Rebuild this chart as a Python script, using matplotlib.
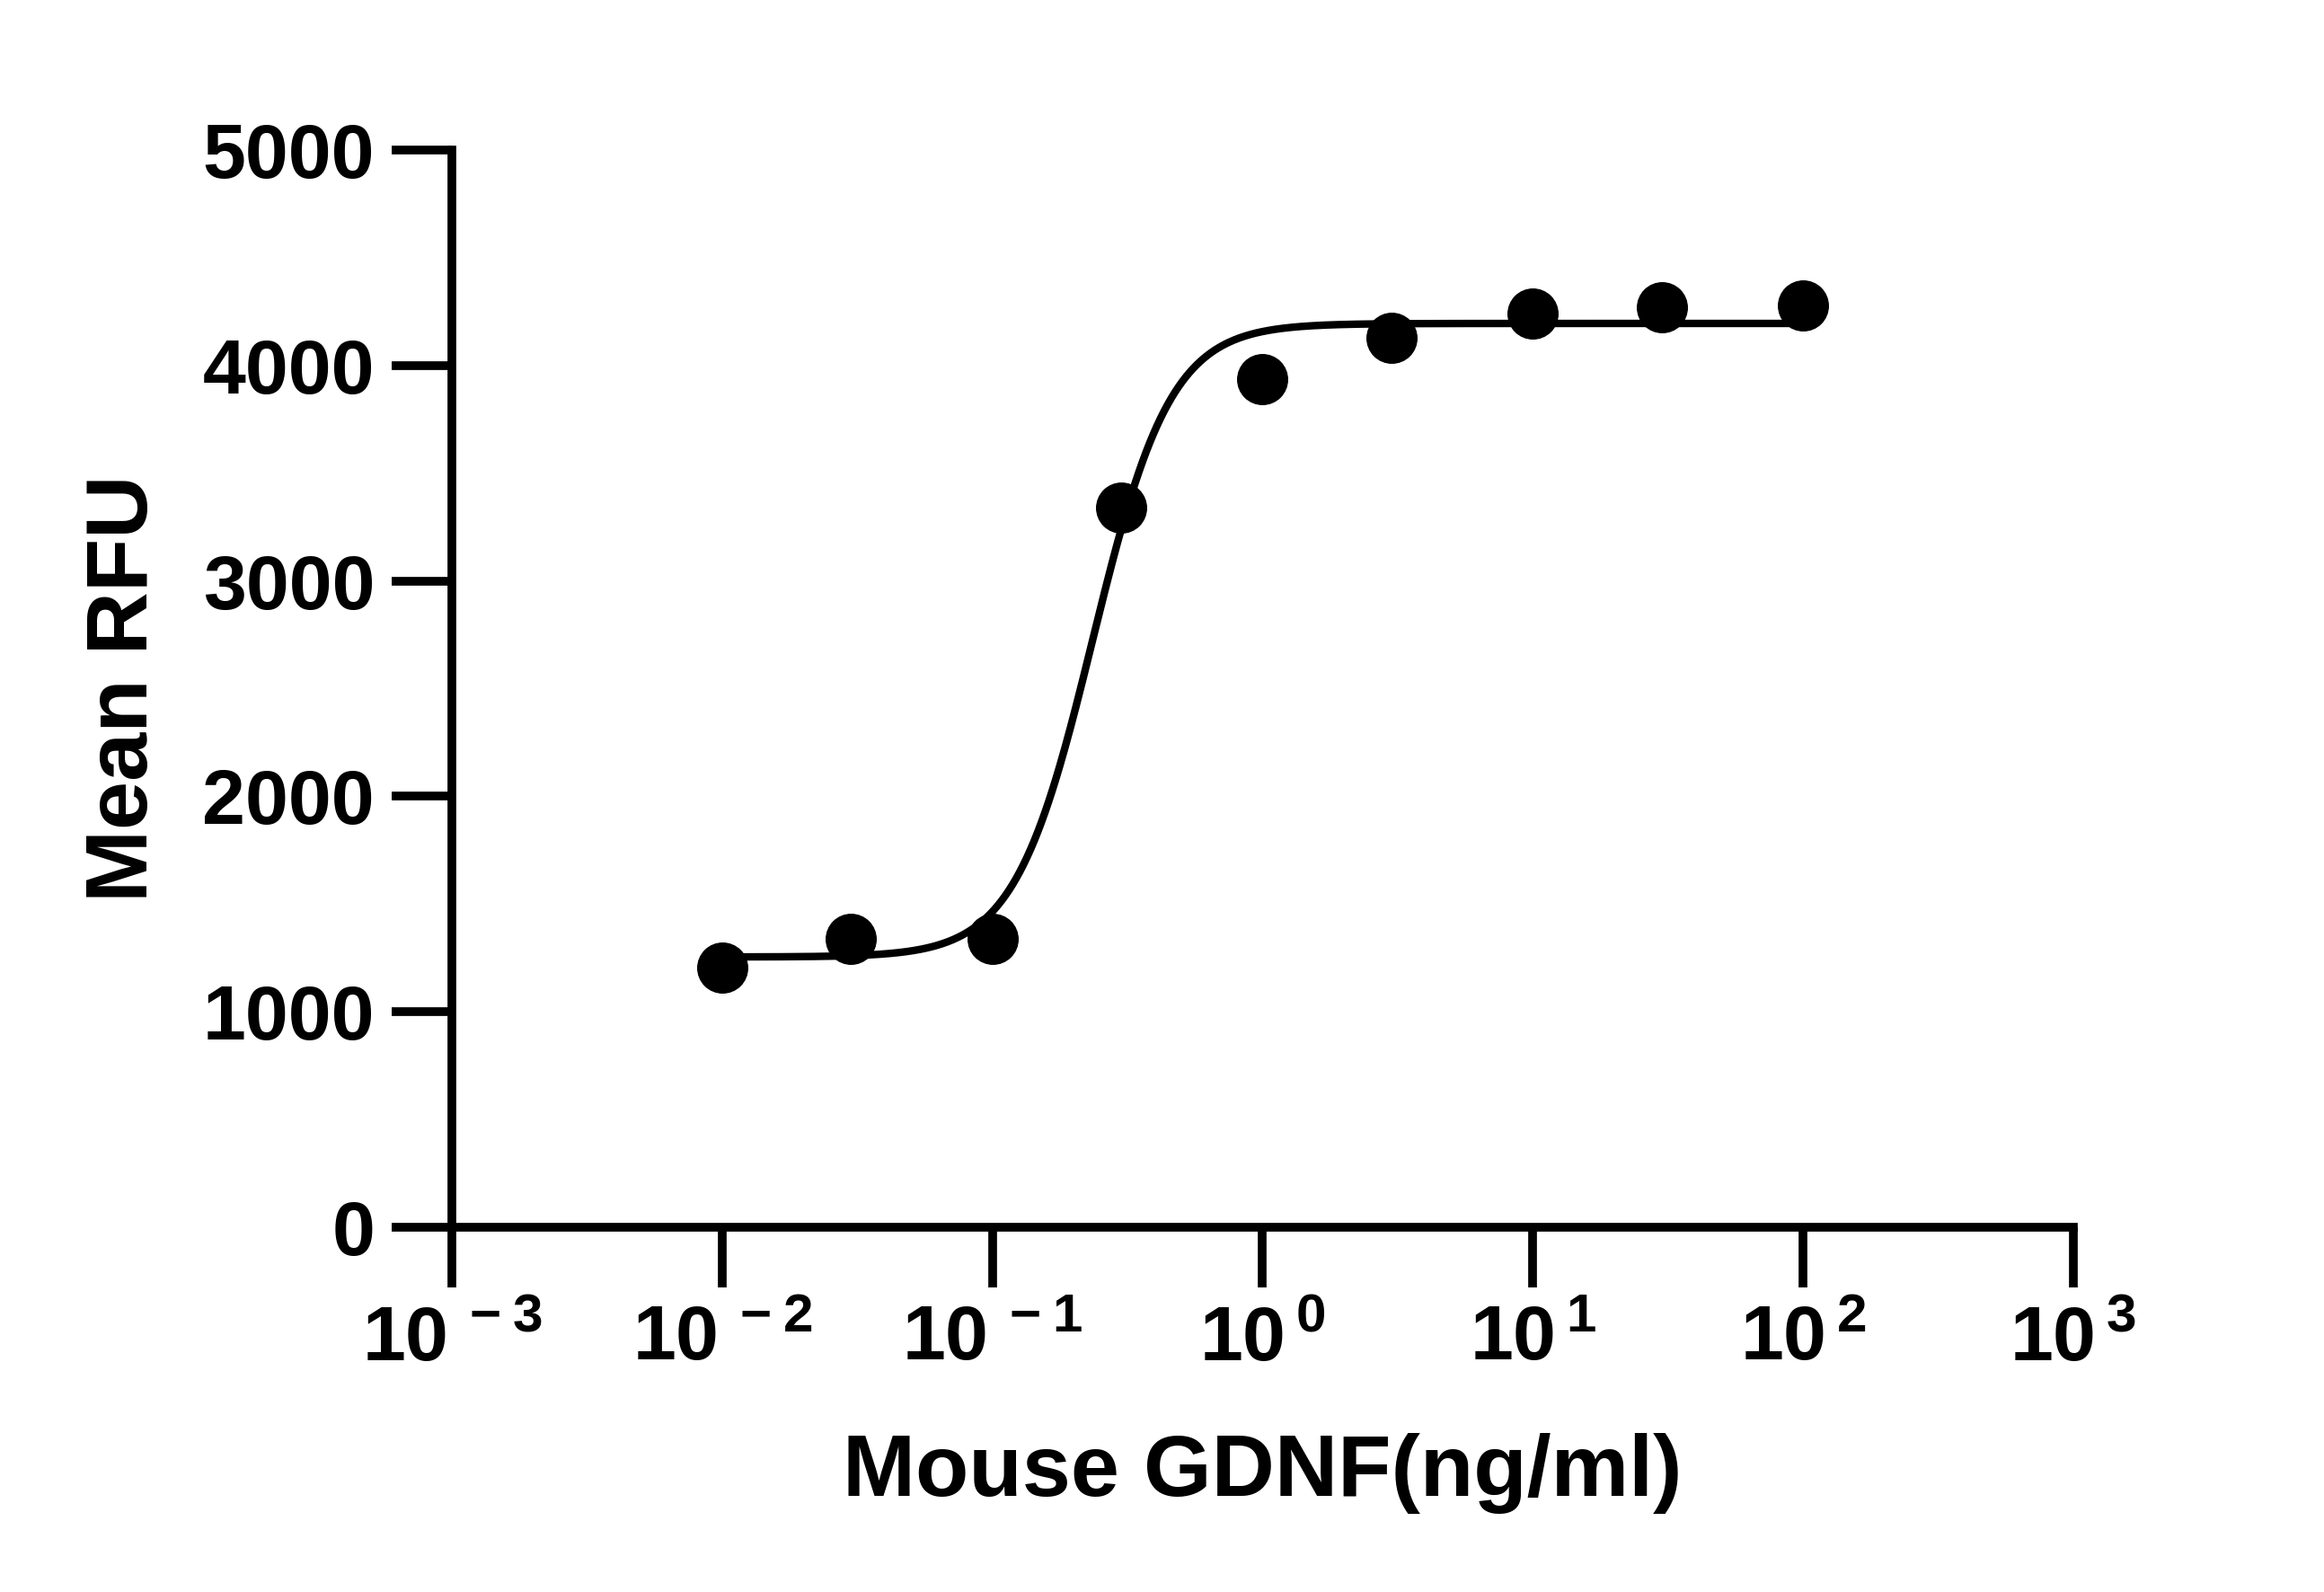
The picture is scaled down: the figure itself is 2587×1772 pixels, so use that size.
import numpy as np
import matplotlib
matplotlib.use("Agg")
import matplotlib.pyplot as plt
from matplotlib.ticker import FixedLocator, FuncFormatter

plt.rcParams['font.family'] = ['Liberation Sans', 'DejaVu Sans']
plt.rcParams['font.weight'] = 'bold'
plt.rcParams['mathtext.fontset'] = 'custom'
plt.rcParams['mathtext.rm'] = 'Liberation Sans:bold'
plt.rcParams['mathtext.bf'] = 'Liberation Sans:bold'
plt.rcParams['axes.unicode_minus'] = False

conc = [0.01, 0.03, 0.1, 0.3, 1, 3, 10, 30, 100]
rfu = [1205, 1340, 1340, 3340, 3935, 4130, 4240, 4268, 4280]
# 4PL fit parameters
bottom, top, ec50, hill = 1255, 4195, 0.235, 3.0

fig = plt.figure(figsize=(25.87, 17.72), dpi=100)
ax = fig.add_axes([0.1945, 0.229, 0.6975, 0.6768])
xs = np.logspace(-2, 2, 600)
ys = bottom + (top - bottom) / (1 + (ec50 / xs) ** hill)
ax.plot(xs, ys, color='black', lw=6, zorder=2)
ax.plot(conc, rfu, 'o', color='black', ms=40, zorder=3, clip_on=False)

ax.set_xscale('log')
ax.set_xlim(1e-3, 1e3)
ax.set_ylim(0, 5000)
ax.xaxis.set_major_locator(FixedLocator([10.0**k for k in range(-3, 4)]))
ax.xaxis.set_minor_locator(FixedLocator([]))
ax.xaxis.set_major_formatter(FuncFormatter(lambda v, p: r'$\mathbf{10^{\,%d}}$' % round(np.log10(v))))
ax.set_yticks([0, 1000, 2000, 3000, 4000, 5000])
for s in ['top', 'right']:
    ax.spines[s].set_visible(False)
for s in ['left', 'bottom']:
    ax.spines[s].set_linewidth(7)
ax.tick_params(width=7, length=48, labelsize=62, direction='out', pad=14)
for lab in ax.get_yticklabels():
    lab.set_fontweight('bold')
ax.set_xlabel('Mouse GDNF(ng/ml)', fontsize=70, fontweight='bold', labelpad=45)
ax.set_ylabel('Mean RFU', fontsize=70, fontweight='bold', labelpad=30)
fig.savefig('out.png', dpi=100)
